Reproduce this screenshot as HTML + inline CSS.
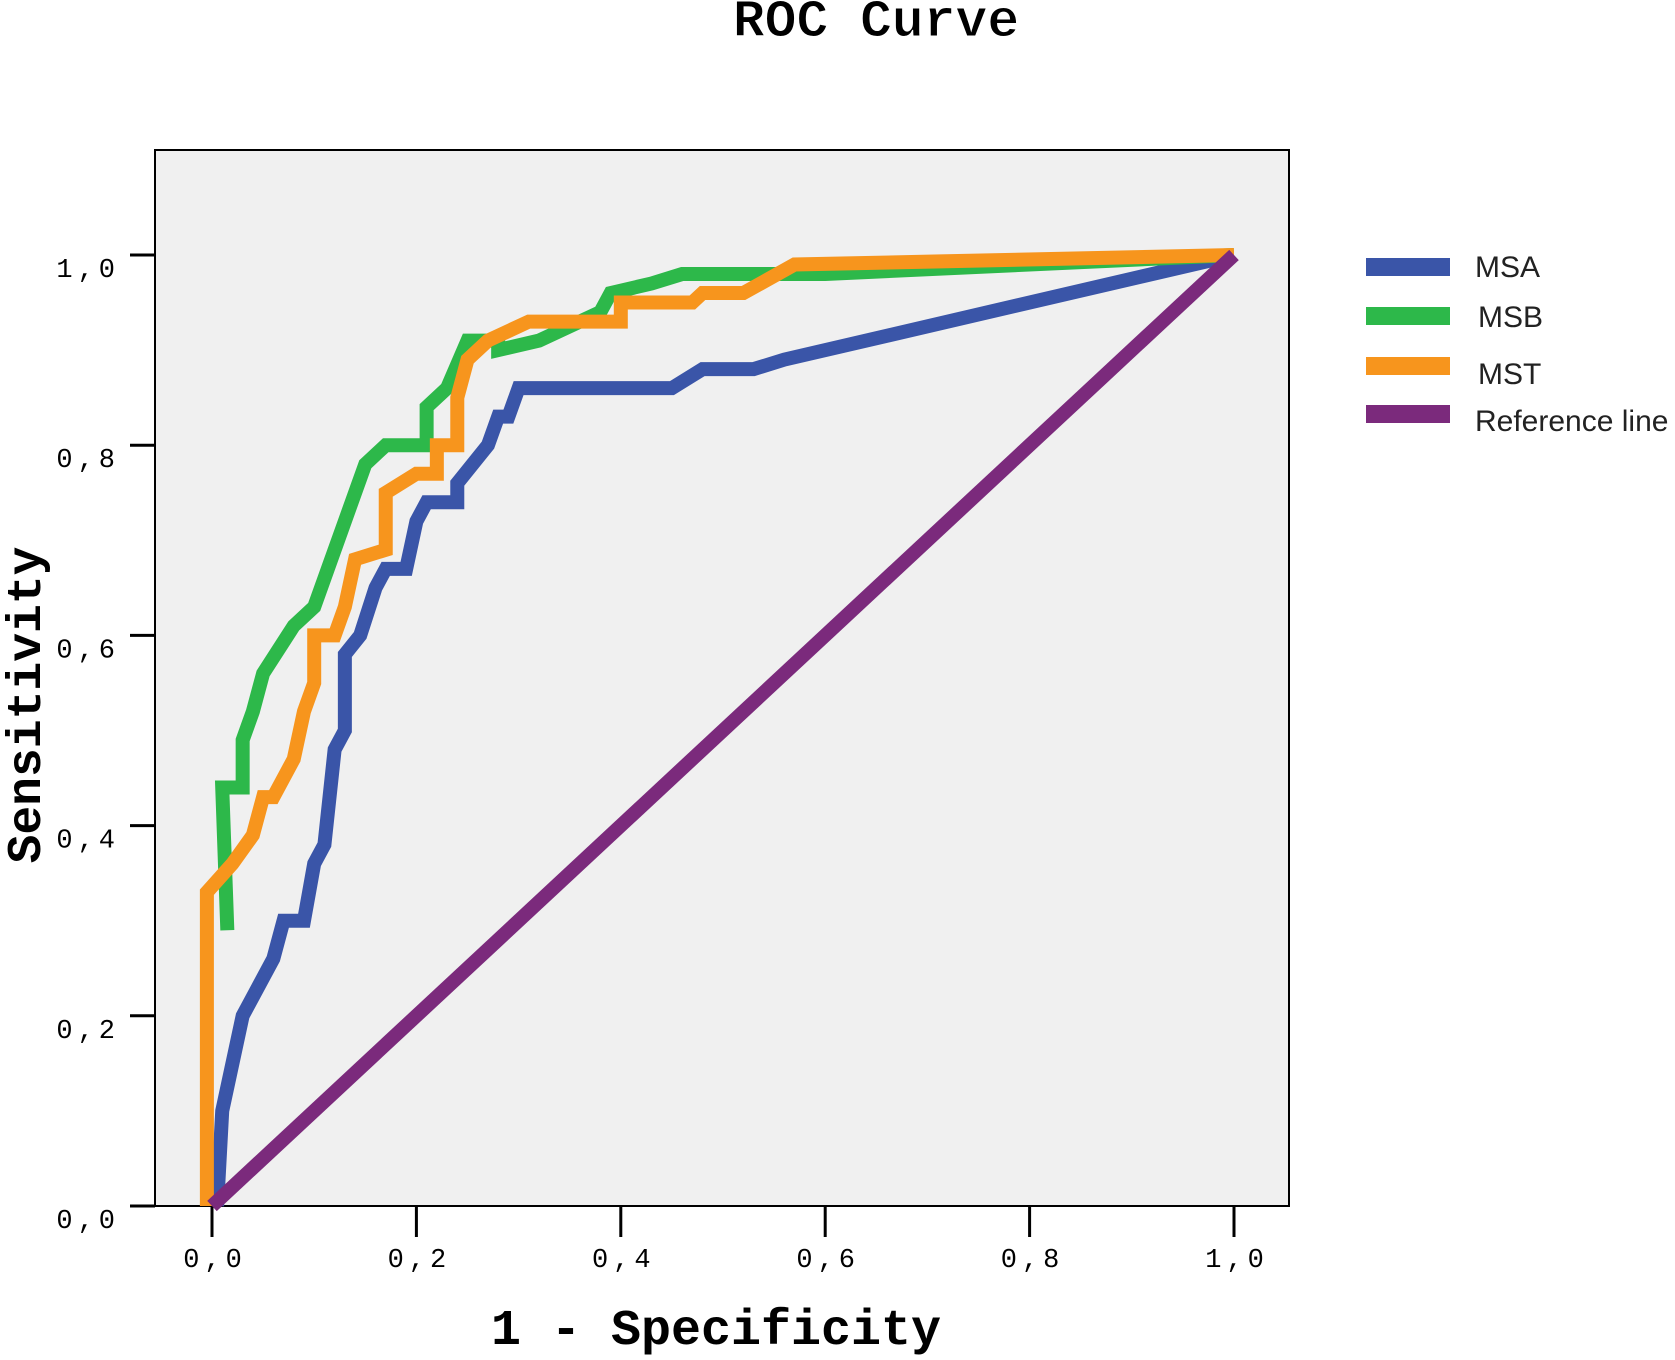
<!DOCTYPE html>
<html><head><meta charset="utf-8"><style>
body{margin:0;background:#fff;}
svg text{font-family:"Liberation Mono",monospace;}
</style></head><body>
<svg width="1675" height="1355" viewBox="0 0 1675 1355" xmlns="http://www.w3.org/2000/svg">
<text x="876" y="36" text-anchor="middle" font-size="53" font-weight="bold" stroke="#fff" stroke-width="1">ROC Curve</text>
<rect x="155" y="150" width="1134" height="1056" fill="#f0f0f0" stroke="#000" stroke-width="2"/>
<g id="axes"></g>
<g id="series"></g>
<text x="716" y="1344" text-anchor="middle" font-size="50" font-weight="bold">1 - Specificity</text>
<text transform="translate(40,705) rotate(-90)" text-anchor="middle" font-size="48" font-weight="bold">Sensitivity</text>
<g>
<rect x="1366" y="258" width="84" height="18" fill="#3a55a8"/>
<text x="1475" y="277" font-size="30" style="font-family:'Liberation Sans',sans-serif" fill="#222">MSA</text>
<rect x="1366" y="307" width="84" height="18" fill="#2db84a"/>
<text x="1478" y="327" font-size="30" style="font-family:'Liberation Sans',sans-serif" fill="#222">MSB</text>
<rect x="1366" y="357" width="84" height="18" fill="#f7951d"/>
<text x="1478" y="384" font-size="30" style="font-family:'Liberation Sans',sans-serif" fill="#222">MST</text>
<rect x="1366" y="405" width="84" height="18" fill="#7b2a7c"/>
<text x="1475" y="431" font-size="30" style="font-family:'Liberation Sans',sans-serif" fill="#222">Reference line</text>
</g>
</svg>
<script>
const ticks=[0,0.2,0.4,0.6,0.8,1.0];
const tickLabels=["0,0","0,2","0,4","0,6","0,8","1,0"];
const msaX=[0.005,0.01,0.03,0.04,0.06,0.07,0.09,0.1,0.11,0.12,0.13,0.13,0.145,0.16,0.17,0.19,0.2,0.21,0.24,0.24,0.27,0.28,0.29,0.3,0.45,0.48,0.53,0.56,1];
const msaY=[0,0.1,0.2,0.22,0.26,0.3,0.3,0.36,0.38,0.48,0.5,0.58,0.6,0.65,0.67,0.67,0.72,0.74,0.74,0.76,0.8,0.83,0.83,0.86,0.86,0.88,0.88,0.89,1];
const msbX=[0.015,0.01,0.03,0.03,0.04,0.05,0.08,0.1,0.14,0.15,0.17,0.21,0.21,0.23,0.25,0.28,0.28,0.32,0.38,0.39,0.43,0.46,0.55,0.6,1];
const msbY=[0.29,0.44,0.44,0.49,0.52,0.56,0.61,0.63,0.75,0.78,0.8,0.8,0.84,0.86,0.91,0.91,0.9,0.91,0.94,0.96,0.97,0.98,0.98,0.98,1];
const mstX=[-0.005,-0.005,0.02,0.04,0.05,0.06,0.08,0.09,0.1,0.1,0.12,0.13,0.14,0.17,0.17,0.2,0.22,0.22,0.24,0.24,0.25,0.27,0.31,0.4,0.4,0.47,0.48,0.52,0.57,1];
const mstY=[0,0.33,0.36,0.39,0.43,0.43,0.47,0.52,0.55,0.6,0.6,0.63,0.68,0.69,0.75,0.77,0.77,0.8,0.8,0.85,0.89,0.91,0.93,0.93,0.95,0.95,0.96,0.96,0.99,1];
const refX=[0,1];
const refY=[0,1];
const NS="http://www.w3.org/2000/svg";
const sx=v=>212+v*1022;
const sy=v=>1206-v*951;
const axes=document.getElementById('axes');
ticks.forEach((t,i)=>{
  const l=document.createElementNS(NS,'line');
  l.setAttribute('x1',sx(t));l.setAttribute('x2',sx(t));l.setAttribute('y1',1206);l.setAttribute('y2',1237);
  l.setAttribute('stroke','#000');l.setAttribute('stroke-width','3');
  
  
  axes.appendChild(l);
  const tx=document.createElementNS(NS,'text');
  tx.setAttribute('x',sx(t)+3);tx.setAttribute('y',1267);tx.setAttribute('text-anchor','middle');tx.setAttribute('font-size','27');tx.setAttribute('letter-spacing','5');
  tx.textContent=tickLabels[i];
  
  
  axes.appendChild(tx);
  const m=document.createElementNS(NS,'line');
  m.setAttribute('x1',130);m.setAttribute('x2',155);m.setAttribute('y1',sy(t));m.setAttribute('y2',sy(t));
  m.setAttribute('stroke','#000');m.setAttribute('stroke-width','3');
  
  
  axes.appendChild(m);
  const ty=document.createElementNS(NS,'text');
  ty.setAttribute('x',120);ty.setAttribute('y',sy(t)+22);ty.setAttribute('text-anchor','end');ty.setAttribute('font-size','27');ty.setAttribute('letter-spacing','5');
  ty.textContent=tickLabels[i];
  
  
  axes.appendChild(ty);
});
const g=document.getElementById('series');
function draw(xs,ys,color,name){
  const p=document.createElementNS(NS,'polyline');
  p.setAttribute('points',xs.map((x,i)=>sx(x)+','+sy(ys[i])).join(' '));
  p.setAttribute('fill','none');p.setAttribute('stroke',color);p.setAttribute('stroke-width','14');
  p.setAttribute('stroke-linejoin','miter');
  
  
  g.appendChild(p);
}
draw(msaX,msaY,'#3a55a8','msa-curve');
draw(msbX,msbY,'#2db84a','msb-curve');
draw(mstX,mstY,'#f7951d','mst-curve');
draw(refX,refY,'#7b2a7c','reference-line');
</script>
</body></html>
